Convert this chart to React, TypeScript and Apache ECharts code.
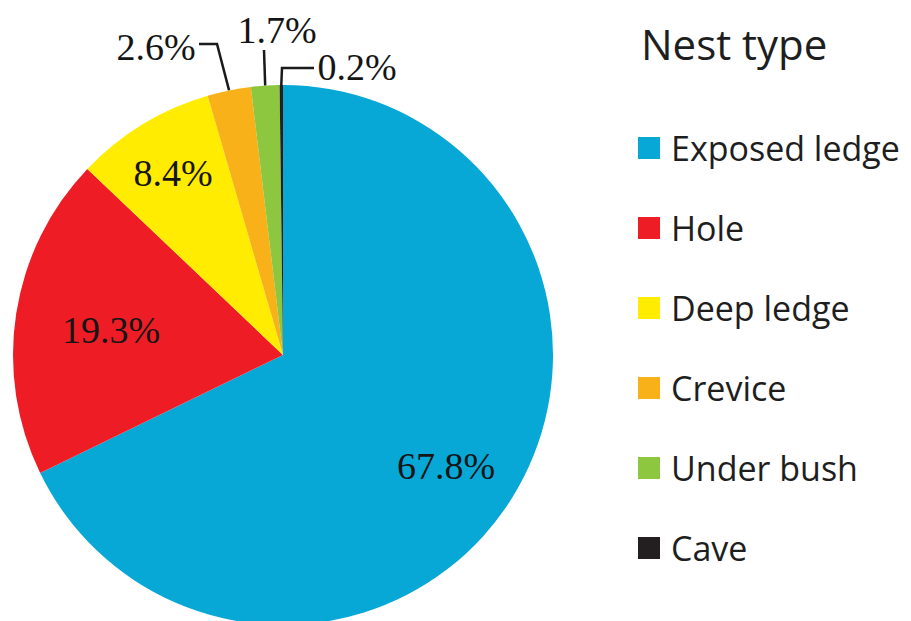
import React, { useEffect, useRef } from "react";
import * as echarts from "echarts";

const categories = ["Exposed ledge", "Hole", "Deep ledge", "Crevice", "Under bush", "Cave"];
const values = [67.8, 19.3, 8.4, 2.6, 1.7, 0.2];
const colors = ["#08A8D6", "#EE1D25", "#FFEC00", "#F8B119", "#8DC63F", "#231F20"];
const legendTitle = "Nest type";

// label placement (centers) and leader-line elbows, styling only
const labelCenters: number[][] = [[446, 466], [111, 330], [173, 173], [156, 47], [277, 30], [357, 67]];
const leaderElbows: (number[][] | null)[] = [
  null,
  null,
  null,
  [[217, 44], [199, 44]],
  [[264, 50], [264, 50]],
  [[282, 68], [314, 68]],
];

export default function App() {
  const ref = useRef<HTMLDivElement>(null);
  useEffect(() => {
    if (!ref.current) return;
    const chart = echarts.init(ref.current, null, { renderer: "svg" });
    const data = categories.map((name, i) => ({
      name,
      value: values[i],
      itemStyle: { color: colors[i] },
      label: { position: i < 3 ? "inside" : "outside" },
      labelLine: { show: i >= 3 },
    }));
    chart.setOption({
      animation: false,
      backgroundColor: "#ffffff",
      title: {
        text: legendTitle,
        left: 641,
        top: 22,
        padding: 0,
        textStyle: { fontFamily: "Open Sans", fontSize: 42, fontWeight: "normal", color: "#1e1e1e" },
      },
      legend: {
        orient: "vertical",
        left: 638,
        top: 131,
        padding: 0,
        itemWidth: 22,
        itemHeight: 22,
        itemGap: 46,
        icon: "rect",
        selectedMode: false,
        data: categories,
        textStyle: {
          fontFamily: "Open Sans",
          fontSize: 34,
          lineHeight: 34,
          color: "#1e1e1e",
          padding: [0, 0, 0, 6],
        },
      },
      series: [
        {
          type: "pie",
          center: [283, 355],
          radius: [0, 270],
          startAngle: 90,
          clockwise: true,
          avoidLabelOverlap: false,
          data,
          label: {
            show: true,
            formatter: "{c}%",
            fontFamily: "Liberation Serif",
            fontSize: 38,
            color: "#151515",
          },
          labelLine: {
            show: false,
            lineStyle: { color: "#1a1a1a", width: 2.5 },
          },
          emphasis: { disabled: true },
          labelLayout: (params: any) => {
            const i = params.dataIndex;
            const c = labelCenters[i];
            const res: any = { x: c[0], y: c[1], align: "center", verticalAlign: "middle" };
            const el = leaderElbows[i];
            if (el && params.labelLinePoints && params.labelLinePoints[0]) {
              const p0 = params.labelLinePoints[0];
              res.labelLinePoints = [[p0[0], p0[1]], el[0], el[1]];
            }
            return res;
          },
        },
      ],
    });
    return () => chart.dispose();
  }, []);
  return (
    <div
      ref={ref}
      style={{ position: "fixed", left: 0, top: 0, width: 911, height: 621, background: "#fff" }}
    />
  );
}
